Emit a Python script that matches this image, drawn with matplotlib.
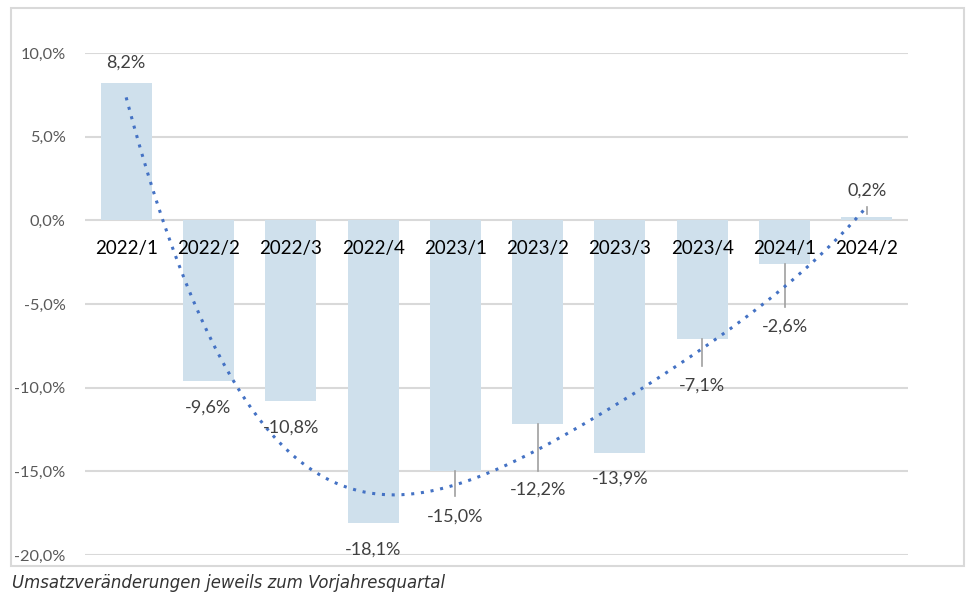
import numpy as np
import matplotlib.pyplot as plt
from matplotlib.patches import Rectangle

quarters = ['2022/1', '2022/2', '2022/3', '2022/4', '2023/1',
            '2023/2', '2023/3', '2023/4', '2024/1', '2024/2']
change = [8.2, -9.6, -10.8, -18.1, -15.0, -12.2, -13.9, -7.1, -2.6, 0.2]
value_labels = ['8,2%', '-9,6%', '-10,8%', '-18,1%', '-15,0%',
                '-12,2%', '-13,9%', '-7,1%', '-2,6%', '0,2%']
yticks = [10, 5, 0, -5, -10, -15, -20]
ytick_labels = ['10,0%', '5,0%', '0,0%', '-5,0%', '-10,0%', '-15,0%', '-20,0%']
caption = 'Umsatzveränderungen jeweils zum Vorjahresquartal'

# label placement (offset from bar end, in %-points) and leader line ends
label_off = [1.25, -1.6, -1.6, -1.6, -2.7, -3.9, -1.55, -2.8, -3.75, 1.6]
leader_end = [None, None, None, None, -16.5, -15.0, None, -8.7, -5.15, 0.8]

plt.rcParams['font.family'] = ['Lato', 'DejaVu Sans']

fig = plt.figure(figsize=(9.75, 5.99), dpi=100)
fig.patch.set_facecolor('white')
fig.add_artist(Rectangle((11/975, 1-566/599), (964-11)/975, (566-8)/599,
                         transform=fig.transFigure, fill=False,
                         edgecolor='#d9d9d9', linewidth=1.5))

ax = fig.add_axes([85/975, 1-555/599, (908-85)/975, (555-53)/599])
x = np.arange(len(quarters))
ax.bar(x, change, width=0.62, color='#cfe0ec', zorder=2)

# polynomial trend line as in the spreadsheet
coef = np.polyfit(x, change, 4)
xs = np.linspace(0, len(x)-1, 200)
ax.plot(xs, np.polyval(coef, xs), color='#4472c4', linestyle=(0, (1, 2.2)),
        linewidth=2.2, zorder=4)

for i, v in enumerate(change):
    ly = v + label_off[i]
    if leader_end[i] is not None:
        y0 = v if v < 0 else 0.4
        ax.plot([i, i], [y0, leader_end[i]], color='#a0a0a0', lw=1.2, zorder=3)
    ax.text(i, ly, value_labels[i], ha='center', va='center', fontsize=13,
            color='#404040', zorder=5)
    ax.text(i, -1.68, quarters[i], ha='center', va='center', fontsize=13.5,
            color='black', zorder=5)

ax.set_xlim(-0.5, len(x)-0.5)
ax.set_ylim(-20, 10)
ax.set_yticks(yticks)
ax.set_yticklabels(ytick_labels, fontsize=11.8, color='#595959')
ax.set_xticks([])
ax.tick_params(axis='y', length=0, pad=14)
ax.grid(axis='y', color='#d9d9d9', linewidth=1.5, zorder=0)
ax.set_axisbelow(True)
for s in ax.spines.values():
    s.set_visible(False)

fig.text(12/975, 1-583/599, caption, fontsize=11.9, style='italic',
         family='DejaVu Sans', color='#333333', va='center', ha='left')

fig.savefig('out.png', dpi=100)
